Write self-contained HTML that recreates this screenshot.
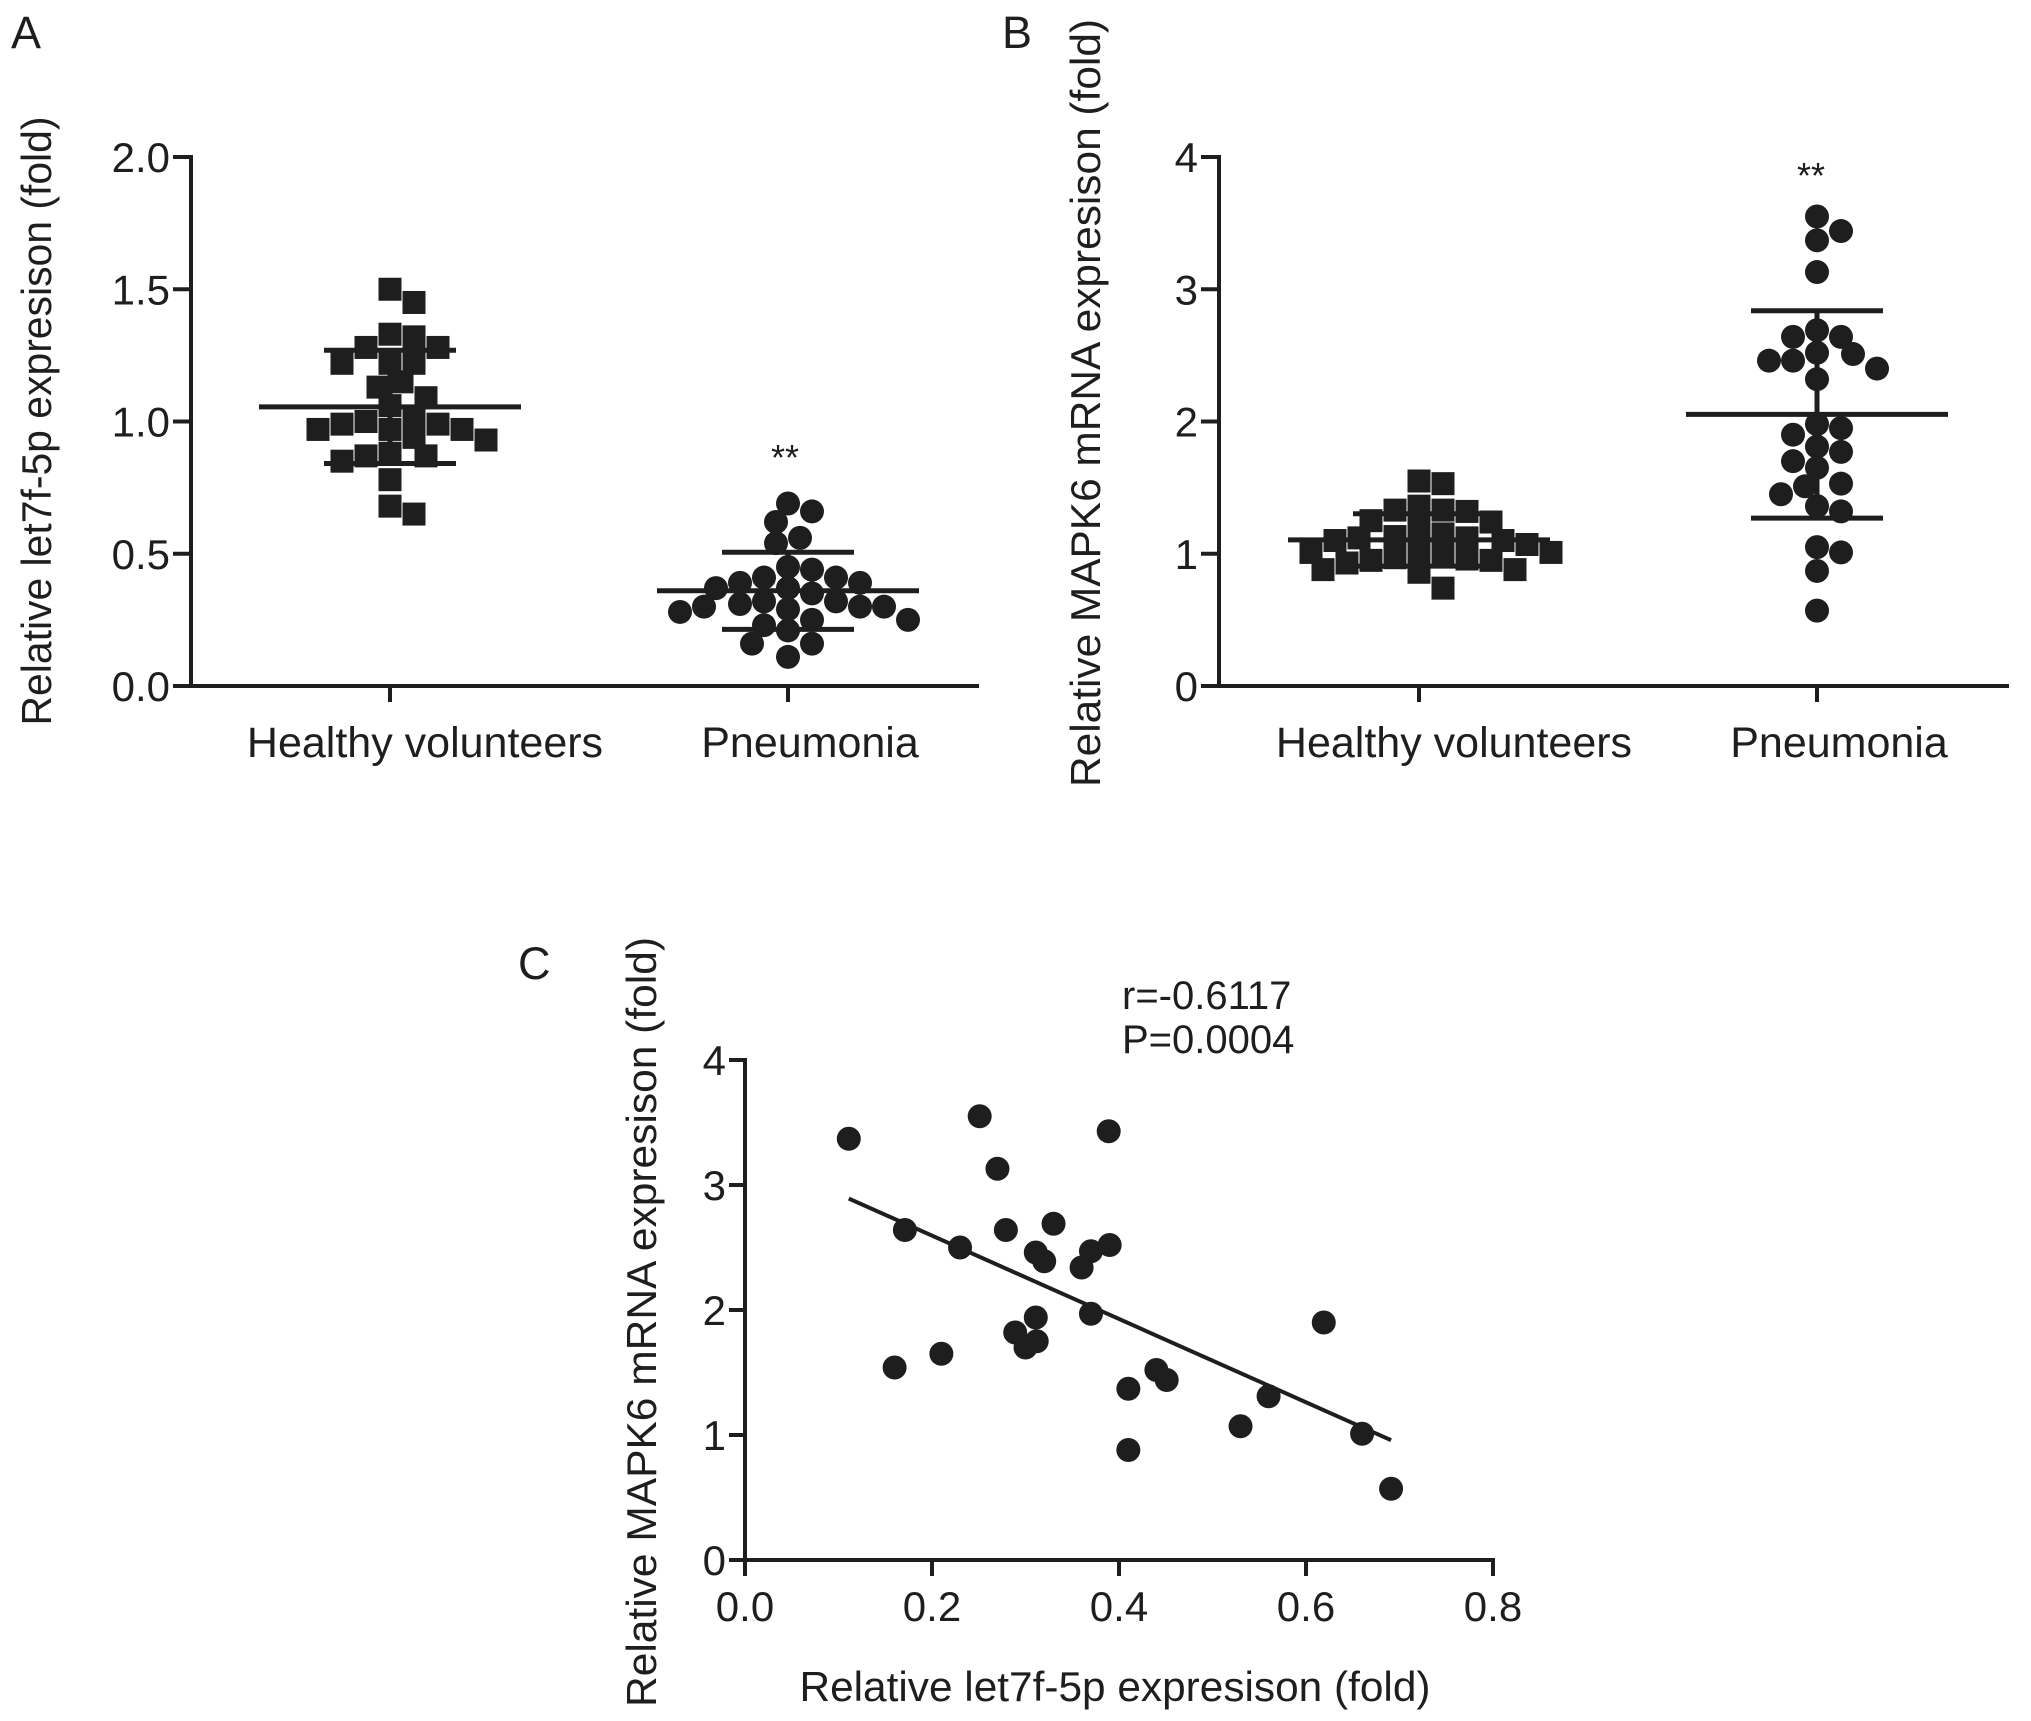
<!DOCTYPE html>
<html><head><meta charset="utf-8"><style>
html,body{margin:0;padding:0;background:#fff;}
svg{display:block;font-family:"Liberation Sans",Arial,sans-serif;}
text{fill:#1e1e1e;}
</style></head><body>
<svg id="fig" width="2031" height="1721" viewBox="0 0 2031 1721" xmlns="http://www.w3.org/2000/svg"></svg>
<script>
// Panel A data (let7f-5p)
const aCategories = ["Healthy volunteers", "Pneumonia"];
const aHealthy = [1.50,1.45,1.33,1.32,1.28,1.28,1.22,1.22,1.22,1.15,1.13,1.09,1.06,1.02,1.00,0.99,0.97,0.97,0.97,0.99,0.93,0.94,0.87,0.85,0.88,0.87,0.78,0.68,0.65];
const aPneumonia = [0.69,0.66,0.62,0.56,0.54,0.45,0.44,0.41,0.39,0.41,0.39,0.37,0.37,0.35,0.32,0.31,0.32,0.30,0.30,0.30,0.28,0.29,0.25,0.25,0.23,0.21,0.16,0.16,0.11];
const aTicks = ["0.0","0.5","1.0","1.5","2.0"];
// Panel B data (MAPK6)
const bCategories = ["Healthy volunteers", "Pneumonia"];
const bHealthy = [1.55,1.53,1.36,1.33,1.32,1.33,1.24,1.25,1.19,1.15,1.13,1.12,1.12,1.10,1.07,1.10,1.02,1.01,1.01,0.97,0.95,0.98,0.96,0.93,0.95,0.88,0.86,0.88,0.74];
const bPneumonia = [3.55,3.44,3.37,3.13,2.69,2.64,2.64,2.52,2.51,2.46,2.46,2.40,2.32,1.98,1.95,1.90,1.81,1.77,1.70,1.65,1.53,1.51,1.45,1.32,1.36,1.01,1.05,0.87,0.57];
const bTicks = ["0","1","2","3","4"];
// Panel C data (correlation)
const cX = [0.111,0.251,0.389,0.270,0.171,0.230,0.279,0.330,0.390,0.311,0.320,0.370,0.360,0.370,0.311,0.289,0.300,0.312,0.160,0.210,0.619,0.440,0.451,0.410,0.560,0.530,0.660,0.410,0.691];
const cY = [3.37,3.55,3.43,3.13,2.64,2.50,2.64,2.69,2.52,2.46,2.39,2.47,2.34,1.97,1.94,1.82,1.70,1.75,1.54,1.65,1.90,1.52,1.44,1.37,1.31,1.07,1.01,0.88,0.57];
const cXTicks = ["0.0","0.2","0.4","0.6","0.8"];
const cYTicks = ["0","1","2","3","4"];

const NS="http://www.w3.org/2000/svg";
const svg=document.getElementById('fig');
function mk(tag,attrs,parent){const e=document.createElementNS(NS,tag);for(const k in attrs)e.setAttribute(k,attrs[k]);(parent||svg).appendChild(e);return e;}
function txt(s,attrs,parent){const e=mk('text',attrs,parent);e.textContent=s;return e;}
const INK="#1e1e1e";

function mean(a){return a.reduce((s,v)=>s+v,0)/a.length;}
function sd(a){const m=mean(a);return Math.sqrt(a.reduce((s,v)=>s+(v-m)*(v-m),0)/(a.length-1));}

function swarm(vals,cx,yf){
  const idx=vals.map((v,i)=>i).sort((i,j)=>vals[j]-vals[i]);
  const placed=[];const pos=new Array(vals.length);
  for(const i of idx){
    const y=yf(vals[i]);
    let chosen=cx;
    for(let k=0;k<60;k++){
      const off=(k===0?0:(k%2?1:-1)*Math.ceil(k/2)*12);
      const x=cx+off;
      if(placed.every(p=>Math.hypot(p[0]-x,p[1]-y)>=20)){chosen=x;break;}
    }
    placed.push([chosen,y]);pos[i]=[chosen,y];
  }
  return pos;
}

function dotPanel(g,cfg){
  const {ax,x1,y0,yTop,vmax,ticks,cats,series,shapes,tickX,star}=cfg;
  const yf=v=>y0-(v/vmax)*(y0-yTop);
  const yAxis=mk('line',{x1:ax,y1:yTop-2,x2:ax,y2:y0+2,stroke:INK,'stroke-width':4},g);
  
  const xAxis=mk('line',{x1:ax-12,y1:y0,x2:x1,y2:y0,stroke:INK,'stroke-width':4},g);
  
  ticks.forEach(t=>{
    const v=parseFloat(t);const y=yf(v);
    const tk=mk('line',{x1:ax-18,y1:y,x2:ax,y2:y,stroke:INK,'stroke-width':4},g);
    
    const tl=txt(t,{x:ax-21,y:y+15,'font-size':42,'text-anchor':'end'},g);
    
  });
  cats.forEach((c,i)=>{
    const cx=tickX[i];
    const tk=mk('line',{x1:cx,y1:y0,x2:cx,y2:y0+16,stroke:INK,'stroke-width':4},g);
    
    const lab=txt(c,{x:cx+(i===0?35:22),y:757,'font-size':43,'text-anchor':'middle'},g);
    
    const vals=series[i];
    const pos=swarm(vals,cx,yf);
    pos.forEach(p=>{
      let m;
      if(shapes[i]==='sq'){m=mk('rect',{x:p[0]-11.5,y:p[1]-11.5,width:23,height:23,fill:INK},g);}
      else{m=mk('circle',{cx:p[0],cy:p[1],r:12,fill:INK},g);}
      
      
    });
    const m=mean(vals),s=sd(vals);
    const ml=mk('line',{x1:cx-131,y1:yf(m),x2:cx+131,y2:yf(m),stroke:INK,'stroke-width':5},g);
    
    const vl=mk('line',{x1:cx,y1:yf(m+s),x2:cx,y2:yf(m-s),stroke:INK,'stroke-width':5},g);
    
    [m+s,m-s].forEach(v=>{
      const el=mk('line',{x1:cx-66,y1:yf(v),x2:cx+66,y2:yf(v),stroke:INK,'stroke-width':5},g);
      
    });
  });
  const st=txt('**',{x:star[0],y:star[1],'font-size':36,'text-anchor':'middle'},g);
  
}

// Panel A
const gA=mk('g',{});
const lA=txt('A',{x:11,y:48,'font-size':45},gA);
const tA=txt('Relative let7f-5p expresison (fold)',{x:0,y:0,'font-size':42,'text-anchor':'middle',textLength:609,lengthAdjust:'spacingAndGlyphs',transform:'translate(51,421) rotate(-90)'},gA);

dotPanel(gA,{ax:191,x1:979,y0:686,yTop:157,vmax:2,ticks:aTicks,cats:aCategories,series:[aHealthy,aPneumonia],shapes:['sq','ci'],tickX:[390,788],star:[785,470]});

// Panel B
const gB=mk('g',{});
const lB=txt('B',{x:1002,y:48,'font-size':45},gB);
const tB=txt('Relative MAPK6 mRNA expresison (fold)',{x:0,y:0,'font-size':42,'text-anchor':'middle',textLength:768,lengthAdjust:'spacingAndGlyphs',transform:'translate(1100,403) rotate(-90)'},gB);

dotPanel(gB,{ax:1219,x1:2009,y0:686,yTop:157,vmax:4,ticks:bTicks,cats:bCategories,series:[bHealthy,bPneumonia],shapes:['sq','ci'],tickX:[1419,1817],star:[1811,188]});

// Panel C
const gC=mk('g',{});
const lC=txt('C',{x:518,y:979,'font-size':45},gC);
const cx0=745,cx1=1493,cy0=1560,cyT=1060;
const xs=v=>cx0+(v/0.8)*(cx1-cx0);
const ys=v=>cy0-(v/4)*(cy0-cyT);
const cya=mk('line',{x1:cx0,y1:cyT-2,x2:cx0,y2:cy0+2,stroke:INK,'stroke-width':4},gC);

const cxa=mk('line',{x1:cx0-2,y1:cy0,x2:cx1+2,y2:cy0,stroke:INK,'stroke-width':4},gC);

cYTicks.forEach(t=>{
  const y=ys(parseFloat(t));
  const tk=mk('line',{x1:cx0-16,y1:y,x2:cx0,y2:y,stroke:INK,'stroke-width':4},gC);
  
  const tl=txt(t,{x:cx0-19,y:y+15,'font-size':42,'text-anchor':'end'},gC);
  
});
cXTicks.forEach(t=>{
  const x=xs(parseFloat(t));
  const tk=mk('line',{x1:x,y1:cy0,x2:x,y2:cy0+16,stroke:INK,'stroke-width':4},gC);
  
  const tl=txt(t,{x:x,y:1621,'font-size':42,'text-anchor':'middle'},gC);
  
});
cX.forEach((xv,i)=>{
  const c=mk('circle',{cx:xs(xv),cy:ys(cY[i]),r:12,fill:INK},gC);
  
  
});
(function(){
  const mx=mean(cX),my=mean(cY);let sxy=0,sxx=0;
  cX.forEach((x,i)=>{sxy+=(x-mx)*(cY[i]-my);sxx+=(x-mx)*(x-mx);});
  const b=sxy/sxx,a=my-b*mx;const xmin=Math.min(...cX),xmax=Math.max(...cX);
  const rl=mk('line',{x1:xs(xmin),y1:ys(a+b*xmin),x2:xs(xmax),y2:ys(a+b*xmax),stroke:INK,'stroke-width':4},gC);
  
})();
const r1=txt('r=-0.6117',{x:1122,y:1009,'font-size':40},gC);
const r2=txt('P=0.0004',{x:1122,y:1053,'font-size':40},gC);
const tCy=txt('Relative MAPK6 mRNA expresison (fold)',{x:0,y:0,'font-size':42,'text-anchor':'middle',textLength:770,lengthAdjust:'spacingAndGlyphs',transform:'translate(656,1322) rotate(-90)'},gC);

const tCx=txt('Relative let7f-5p expresison (fold)',{x:1115,y:1701,'font-size':42,'text-anchor':'middle',textLength:631,lengthAdjust:'spacingAndGlyphs'},gC);

</script>
</body></html>
